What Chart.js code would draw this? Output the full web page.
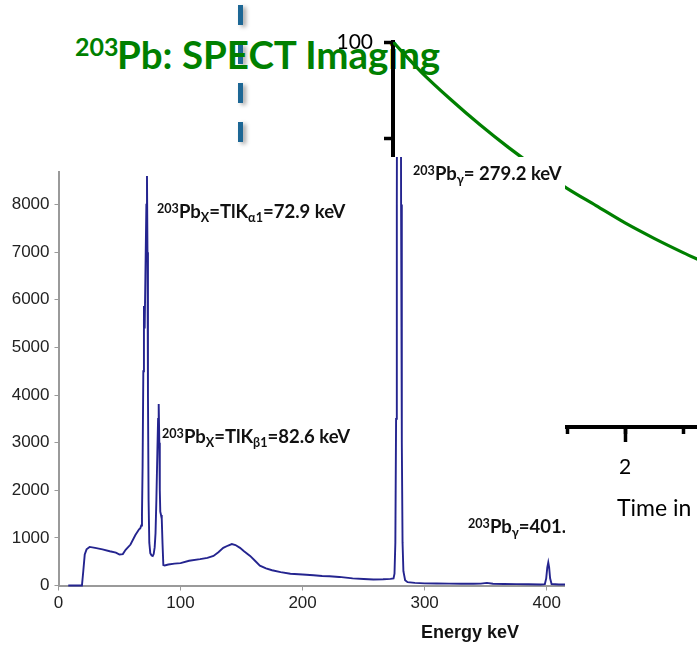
<!DOCTYPE html>
<html><head><meta charset="utf-8">
<script src="https://cdn.jsdelivr.net/npm/chart.js@4/dist/chart.umd.min.js"></script>
<style>
html,body{margin:0;padding:0;background:#fff;}
#stage{position:relative;width:697px;height:646px;overflow:hidden;background:#fff;}
#bg{position:absolute;left:0;top:0;width:697px;height:646px;}
#dash{position:absolute;left:238px;top:5px;width:5px;height:152px;
  background:repeating-linear-gradient(to bottom,#1d6795 0px,#1d6795 20px,transparent 20px,transparent 39px);
  filter:drop-shadow(3px 2px 2px rgba(0,0,0,0.35));}
.tt{position:absolute;font-family:Lato,sans-serif;font-weight:bold;color:#008000;line-height:1.2;white-space:nowrap;}
#panel{position:absolute;left:0;top:157px;width:565px;height:489px;background:#fff;overflow:hidden;}
#spec{position:absolute;left:0;top:0;width:565px;height:489px;}
.ann{position:absolute;font-family:Lato,sans-serif;font-weight:bold;font-size:18.5px;line-height:1.2;color:#111;white-space:nowrap;}
.ann .sp{font-size:0.68em;vertical-align:0.42em;line-height:0;}
.ann .sb{font-size:0.68em;vertical-align:-0.28em;line-height:0;}
#xtitle{position:absolute;font-family:"Liberation Sans",Arial,sans-serif;font-weight:bold;font-size:18px;color:#111;white-space:nowrap;line-height:1.2;}
#timein{position:absolute;left:617px;top:494px;font-family:Lato,sans-serif;font-size:23px;line-height:1.2;color:#000;white-space:nowrap;}
</style></head>
<body>
<div id="stage">
  <div id="dash"></div>
  <div class="tt" style="left:75px;top:31px;font-size:25px;">203</div>
  <div class="tt" style="left:117px;top:31px;font-size:38.5px;">Pb: SPECT Imaging</div>
  <canvas id="bg" width="697" height="646"></canvas>
  <div id="timein">Time in</div>
  <div id="panel">
    <canvas id="spec" width="565" height="489"></canvas>
    <div class="ann" style="left:157px;top:43px;"><span class="sp">203</span>Pb<span class="sb">X</span>=TlK<span class="sb">α1</span>=72.9 keV</div>
    <div class="ann" style="left:162px;top:268px;"><span class="sp">203</span>Pb<span class="sb">X</span>=TlK<span class="sb">β1</span>=82.6 keV</div>
    <div class="ann" style="left:413px;top:5px;"><span class="sp">203</span>Pb<span class="sb">γ</span>= 279.2 keV</div>
    <div class="ann" style="left:468px;top:358px;"><span class="sp">203</span>Pb<span class="sb">γ</span>=401.</div>
    <div id="xtitle" style="left:421px;top:465px;">Energy keV</div>
  </div>
</div>
<script>
// ---- Background chart: decay curve (percent vs time in days) ----
const decayDays = [0, 0.25, 0.5, 0.75, 1, 1.25, 1.5, 1.75, 2, 2.25, 2.5, 2.75];
const decayPct  = [100, 92, 85, 78.5, 72.5, 67, 62, 57.5, 53, 49, 45.3, 41.8];

// ---- Spectrum: energy (keV) and counts ----
const energyKeV = [8, 19.2, 20.3, 21.5, 23, 25.5, 30, 36, 42, 47, 50, 52.7, 55, 59, 63, 66,
  67, 67.8, 68.4, 68.9, 69.5, 70.0, 70.4, 70.6, 71.2, 72.0, 72.5, 72.9, 73.3, 73.8, 74.4, 75.2,
  76.3, 77.2, 78.0, 78.8, 79.5, 80.2, 81.0, 81.6, 82.1, 82.6, 83.0, 83.4, 84.0, 84.6, 85.2, 85.9,
  87, 90, 95, 100, 107, 116, 122, 127, 131, 135, 139, 142, 145, 148.7, 152, 157, 161, 165, 170,
  175, 182, 190, 200, 209, 216, 222, 230, 241, 250, 258, 266, 272, 274.5, 275.3, 276.0, 276.6,
  277.2, 278.0, 279.0, 280.0, 280.7, 281.3, 281.9, 282.6, 284, 286, 292, 300, 310, 320, 330, 340,
  346, 351, 356, 365, 375, 385, 395, 398.5, 399.6, 400.5, 401.3, 402.0, 402.8, 404, 410, 416];
const counts = [0, 0, 300, 650, 760, 810, 790, 760, 720, 690, 650, 660, 750, 860, 1060, 1180,
  1200, 1260, 1500, 2500, 4500, 5850, 5850, 5400, 6500, 8000, 8600, 7000, 4000, 1800, 900, 680,
  630, 620, 660, 800, 1100, 1800, 2800, 3500, 3813, 3000, 2000, 1550, 1480, 1400, 900, 430,
  420, 440, 460, 470, 520, 553, 580, 621, 700, 790, 840, 870, 850, 790, 720, 621, 520, 418, 360,
  320, 280, 248, 230, 214, 200, 194, 180, 150, 135, 126, 130, 140, 150, 250, 900, 3500,
  8000, 20000, 30000, 20000, 8000, 3000, 900, 300, 110, 70, 55, 45, 42, 40, 38, 36,
  40, 55, 38, 32, 28, 25, 22, 30, 150, 380, 485, 380, 150, 30, 22, 20];

const specXTicks = [0, 100, 200, 300, 400];
const specYTicks = [0, 1000, 2000, 3000, 4000, 5000, 6000, 7000, 8000];

// background chart
new Chart(document.getElementById('bg'), {
  type: 'scatter',
  data: { datasets: [{
    data: decayDays.map((d, i) => ({ x: d, y: decayPct[i] })),
    showLine: true, borderColor: '#008000', borderWidth: 3.2, pointRadius: 0,
    cubicInterpolationMode: 'monotone', fill: false
  }]},
  options: {
    responsive: false, animation: false, events: [],
    layout: { padding: { left: 333, top: 42, right: 0, bottom: 159 } },
    plugins: { legend: { display: false }, tooltip: { enabled: false } },
    scales: {
      xMinor: {
        type: 'linear', position: 'bottom', weight: 0, axis: 'x',
        min: 0, max: 2.62,
        afterFit: s => { s.height = 0; },
        grid: { drawOnChartArea: false, tickLength: 7, tickWidth: 3.5, tickColor: '#000' },
        border: { display: true, color: '#000', width: 4 },
        ticks: { display: false, stepSize: 0.5, includeBounds: false }
      },
      x: {
        type: 'linear', position: 'bottom', weight: 1,
        min: 0, max: 2.62,
        afterFit: s => { s.height = 60; },
        grid: { drawOnChartArea: false, tickLength: 15, tickWidth: 3.5, tickColor: '#000' },
        border: { display: false },
        ticks: { stepSize: 1, includeBounds: false, padding: 13, color: '#000',
          font: { family: 'Lato', size: 21 }, callback: v => String(v) }
      },
      y: {
        type: 'linear', position: 'left', min: 0, max: 100,
        afterFit: s => { s.width = 60; },
        grid: { drawOnChartArea: false, tickLength: 9, tickWidth: 3.5, tickColor: '#000' },
        border: { display: true, color: '#000', width: 4 },
        ticks: { stepSize: 25, includeBounds: false, padding: 11, color: '#000',
          font: { family: 'Lato', size: 21 },
          callback: v => (v % 50 === 0 ? String(v) : '') }
      }
    }
  }
});

// spectrum chart
new Chart(document.getElementById('spec'), {
  type: 'line',
  data: { datasets: [{
    data: energyKeV.map((e, i) => ({ x: e, y: counts[i] })),
    borderColor: '#24248f', borderWidth: 1.9, pointRadius: 0, tension: 0, fill: false,
    clip: false
  }]},
  options: {
    responsive: false, animation: false, events: [],
    layout: { padding: { left: 0, top: 3, right: 0, bottom: 0 } },
    plugins: { legend: { display: false }, tooltip: { enabled: false } },
    scales: {
      x: {
        type: 'linear', min: 0, max: 415,
        afterFit: s => { s.height = 60.5; },
        afterBuildTicks: s => { s.ticks = specXTicks.map(v => ({ value: v })); },
        grid: { drawOnChartArea: false, tickLength: 5, color: '#9a9a9a', tickColor: '#9a9a9a' },
        border: { color: '#9a9a9a', width: 2 },
        ticks: { padding: 3, color: '#222', font: { family: 'Liberation Sans', size: 17 },
          callback: v => String(v) }
      },
      y: {
        type: 'linear', min: 0, max: 8680,
        afterFit: s => { s.width = 58.5; },
        afterBuildTicks: s => { s.ticks = specYTicks.map(v => ({ value: v })); },
        grid: { drawOnChartArea: false, tickLength: 4, color: '#9a9a9a', tickColor: '#9a9a9a' },
        border: { color: '#9a9a9a', width: 2 },
        ticks: { padding: 5, color: '#222', font: { family: 'Liberation Sans', size: 17 },
          callback: v => String(v) }
      }
    }
  }
});
</script>
</body></html>
